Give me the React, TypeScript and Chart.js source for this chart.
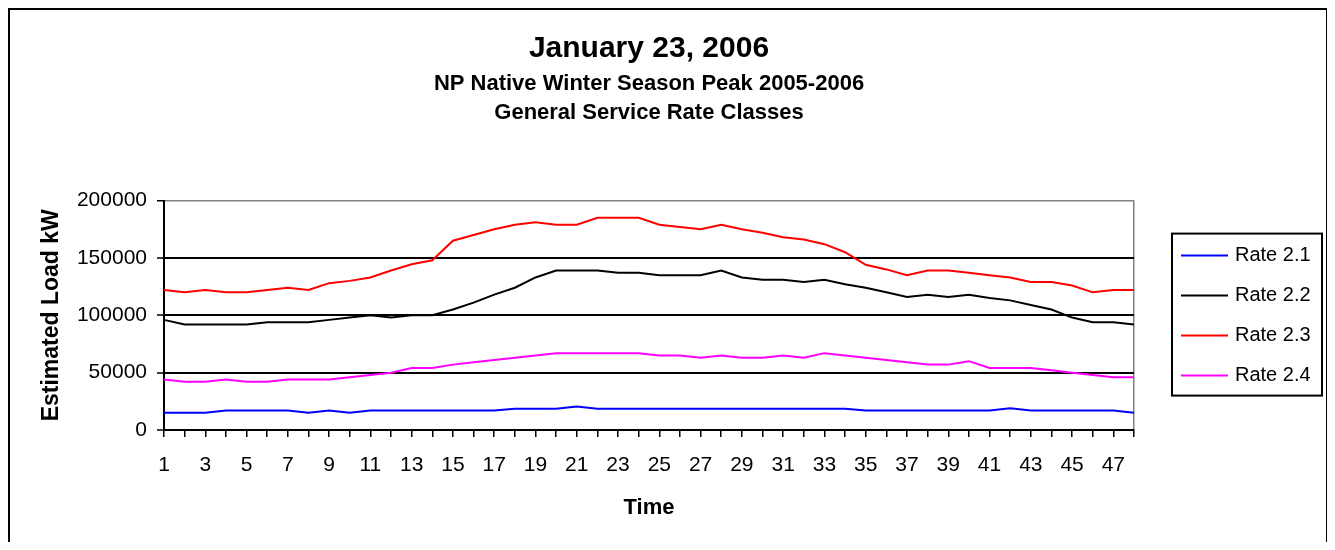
import React, { useEffect, useRef } from 'react';
import { Chart, registerables } from 'chart.js';

Chart.register(...registerables);

const FONT = "Arial, 'Liberation Sans', Helvetica, sans-serif";

const timeLabels = [
  '1', '2', '3', '4', '5', '6', '7', '8', '9', '10', '11', '12',
  '13', '14', '15', '16', '17', '18', '19', '20', '21', '22', '23', '24',
  '25', '26', '27', '28', '29', '30', '31', '32', '33', '34', '35', '36',
  '37', '38', '39', '40', '41', '42', '43', '44', '45', '46', '47', '48',
];

const rate21 = [
  15000, 15000, 15000, 17000, 17000, 17000, 17000, 15000, 17000, 15000, 17000, 17000,
  17000, 17000, 17000, 17000, 17000, 18500, 18500, 18500, 20500, 18500, 18500, 18500,
  18500, 18500, 18500, 18500, 18500, 18500, 18500, 18500, 18500, 18500, 17000, 17000,
  17000, 17000, 17000, 17000, 17000, 19000, 17000, 17000, 17000, 17000, 17000, 15000,
];

const rate22 = [
  96000, 92000, 92000, 92000, 92000, 94000, 94000, 94000, 96000, 98000, 100000, 98000,
  100000, 100000, 105000, 111000, 118000, 124000, 133000, 139000, 139000, 139000, 137000, 137000,
  135000, 135000, 135000, 139000, 133000, 131000, 131000, 129000, 131000, 127000, 124000, 120000,
  116000, 118000, 116000, 118000, 115000, 113000, 109000, 105000, 98000, 94000, 94000, 92000,
];

const rate23 = [
  122000, 120000, 122000, 120000, 120000, 122000, 124000, 122000, 128000, 130000, 133000, 139000,
  144500, 148000, 165000, 170000, 175000, 179000, 181000, 179000, 179000, 185000, 185000, 185000,
  179000, 177000, 175000, 179000, 175000, 172000, 168000, 166000, 162000, 155000, 144000, 140000,
  135000, 139000, 139000, 137000, 135000, 133000, 129000, 129000, 126000, 120000, 122000, 122000,
];

const rate24 = [
  44000, 42000, 42000, 44000, 42000, 42000, 44000, 44000, 44000, 46000, 48000, 50000,
  54000, 54000, 57000, 59000, 61000, 63000, 65000, 67000, 67000, 67000, 67000, 67000,
  65000, 65000, 63000, 65000, 63000, 63000, 65000, 63000, 67000, 65000, 63000, 61000,
  59000, 57000, 57000, 60000, 54000, 54000, 54000, 52000, 50000, 48000, 46000, 46000,
];

const seriesNames = ['Rate 2.1', 'Rate 2.2', 'Rate 2.3', 'Rate 2.4'];
const seriesColors = ['#0000FF', '#000000', '#FF0000', '#FF00FF'];

const yMin = 0;
const yMax = 200000;
const yStep = 50000;

const titleText = 'January 23, 2006';
const subtitleLines = ['NP Native Winter Season Peak 2005-2006', 'General Service Rate Classes'];
const xTitle = 'Time';
const yTitle = 'Estimated Load kW';

const boxLegend = {
  id: 'boxLegend',
  afterDraw(chart: any) {
    const { ctx, chartArea } = chart;
    const left = chartArea.right + 38;
    const top = chartArea.top + 33;
    const w = 150;
    const h = 162;
    ctx.save();
    ctx.lineWidth = 2;
    ctx.strokeStyle = '#000';
    ctx.strokeRect(left, top, w, h);
    ctx.font = `20px ${FONT}`;
    ctx.textBaseline = 'middle';
    ctx.textAlign = 'left';
    ctx.fillStyle = '#000';
    chart.data.datasets.forEach((ds: any, i: number) => {
      const y = top + 22 + i * 40;
      ctx.beginPath();
      ctx.moveTo(left + 9, y);
      ctx.lineTo(left + 56, y);
      ctx.strokeStyle = ds.borderColor;
      ctx.lineWidth = 2;
      ctx.stroke();
      ctx.fillText(ds.label, left + 63, y);
    });
    ctx.restore();
  },
};

export default function App() {
  const canvasRef = useRef<HTMLCanvasElement | null>(null);

  useEffect(() => {
    if (!canvasRef.current) return;
    Chart.defaults.font.family = FONT;
    Chart.defaults.color = '#000';
    const values = [rate21, rate22, rate23, rate24];
    const chart = new Chart(canvasRef.current, {
      type: 'line',
      data: {
        labels: timeLabels,
        datasets: values.map((v, i) => ({
          label: seriesNames[i],
          data: v,
          borderColor: seriesColors[i],
          backgroundColor: seriesColors[i],
          borderWidth: 2,
          pointRadius: 0,
          tension: 0,
          fill: false,
        })),
      },
      options: {
        responsive: false,
        animation: false,
        layout: { padding: { left: 0, right: 192, top: 0, bottom: 0 } },
        plugins: {
          legend: { display: false },
          tooltip: { enabled: false },
          title: {
            display: true,
            text: titleText,
            fullSize: false,
            color: '#000',
            font: { size: 30, weight: 'bold', family: FONT, lineHeight: 1.2 },
            padding: { top: 21, bottom: 0 },
          },
          subtitle: {
            display: true,
            text: subtitleLines,
            fullSize: false,
            color: '#000',
            font: { size: 22, weight: 'bold', family: FONT, lineHeight: 1.286 },
            padding: { top: 3, bottom: 74 },
          },
        },
        scales: {
          x: {
            type: 'category',
            offset: false,
            afterFit: (scale: any) => { scale.height = 112; },
            border: { display: true, color: '#000', width: 2 },
            grid: {
              display: true,
              drawOnChartArea: true,
              drawTicks: true,
              tickLength: 7,
              color: (c: any) => (c.index === timeLabels.length - 1 ? '#808080' : 'rgba(0,0,0,0)'),
              tickColor: '#000',
              lineWidth: 1.5,
              tickWidth: 1.5,
            },
            ticks: {
              autoSkip: false,
              maxRotation: 0,
              minRotation: 0,
              padding: 16,
              color: '#000',
              font: { size: 21, family: FONT },
              callback: (_v: any, idx: number) => (idx % 2 === 0 ? timeLabels[idx] : ''),
            },
            title: {
              display: true,
              text: xTitle,
              color: '#000',
              font: { size: 22, weight: 'bold', family: FONT, lineHeight: 1.2 },
              padding: { top: 0, bottom: 21 },
            },
          },
          y: {
            min: yMin,
            max: yMax,
            afterFit: (scale: any) => { scale.width = 154; },
            border: { display: true, color: '#000', width: 2 },
            grid: {
              drawTicks: true,
              tickLength: 7,
              color: (c: any) => {
                const v = c.tick ? c.tick.value : 0;
                if (v === yMax) return '#808080';
                if (v === yMin) return 'rgba(0,0,0,0)';
                return '#000';
              },
              lineWidth: (c: any) => (c.tick && c.tick.value === yMax ? 1.5 : 2),
              tickColor: '#000',
              tickWidth: 1.5,
            },
            ticks: {
              stepSize: yStep,
              padding: 10,
              color: '#000',
              font: { size: 21, family: FONT },
              callback: (v: any) => String(v),
            },
            title: {
              display: true,
              text: yTitle,
              color: '#000',
              font: { size: 23, weight: 'bold', family: FONT, lineHeight: 1.2 },
              padding: { top: 28, bottom: 0 },
            },
          },
        },
      },
      plugins: [boxLegend],
    } as any);
    return () => chart.destroy();
  }, []);

  return (
    <div
      style={{
        border: '2px solid #000',
        borderBottom: 'none',
        width: 1316,
        height: 532,
        background: '#fff',
      }}
    >
      <style>{'html, body { overflow: hidden; }'}</style>
      <canvas ref={canvasRef} width={1316} height={532} style={{ display: 'block' }} />
    </div>
  );
}
